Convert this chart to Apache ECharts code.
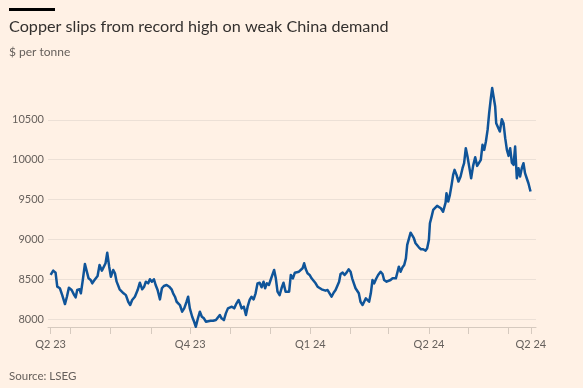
<!DOCTYPE html>
<html><head><meta charset="utf-8">
<script src="https://cdn.jsdelivr.net/npm/echarts@6/dist/echarts.min.js"></script>
<style>html,body{margin:0;padding:0;background:#FFF1E5}#c{width:583px;height:388px}</style>
</head><body><div id="c"></div>
<script>
// Days counted from 16 June 2023
const dayOffsets = [0,2,3.8,5.1,7.1,8.9,11,12.5,14,16.1,18.1,19.2,20.4,22.2,23.2,24.5,26.3,27.8,29.1,30.7,31.9,33.2,34.5,36,37.5,39.3,40.8,42.1,43.4,44.9,46.2,48,49.3,50.6,51.8,52.9,54.4,55.9,57.7,59.5,61,62.5,64.6,66.7,68.4,70.2,71.7,73,74.8,76.1,77.6,79.2,80.5,82,83.8,85.3,86.8,88.9,90.9,92.7,93.9,95.3,96.6,97.8,99.1,100.8,102.4,104.2,105.4,106.7,108.5,110,111.3,112.9,114.4,115.9,117.5,119,120.5,122.6,124.6,126.7,128.2,129.7,131,132.8,134.3,135.9,137.4,138.9,140.7,142.5,144.1,145.1,146.4,148.1,149.7,151,152.5,154,155.6,157.1,158.6,160.2,161.7,163.2,164.4,165.7,167.3,168.6,169.8,171.3,172.6,173.9,175.5,177,178.5,180.1,181.6,182.8,184.1,185.7,187.2,188.7,190.3,191.8,193.1,194.3,195.6,196.9,198.5,200,201.5,203.1,204.6,206.1,207.7,209.2,210.7,212.3,213.8,215.3,216.9,218.4,219.6,221.1,222.2,223.8,225.3,226.8,228.4,229.9,231.1,232.4,233.7,234.9,236.2,237.5,239.1,240.3,241.6,242.9,244.1,245.4,246.7,248,249.3,251,252.9,254.4,255.6,257.5,259,260.5,262.1,263.3,264.6,265.9,266.9,268.2,269.7,271,272.3,273.3,274.6,275.9,277.1,278.4,279.7,280.9,282.2,283.8,285.5,287.4,288.6,289.9,290.7,292,293.2,294.5,296.2,297.5,299.1,300.8,302.7,303.4,304.7,306,307.3,308.5,309.6,311.1,312.6,314.2,315.7,316.9,318.2,319.5,320.8,322.3,323.8,325.4,326.9,328.4,329.7,331,332.3,333.6,334.9,336.1,337.4,338.4,339.7,340.7,341.5,342.8,344.3,345.8,347.1,348.4,349.7,351,352.2,353.5,354.8,356,357.3,358.6,359.8,361.1,362.4,363.6,364.9,366.2,367.8];
const prices = [8553,8607,8582,8406,8386,8300,8188,8280,8393,8364,8300,8272,8364,8373,8323,8469,8691,8666,8511,8490,8448,8481,8461,8540,8678,8607,8582,8700,8833,8657,8531,8616,8574,8469,8448,8373,8393,8323,8300,8217,8176,8239,8280,8364,8456,8373,8406,8469,8448,8499,8469,8499,8427,8364,8247,8386,8415,8427,8406,8373,8323,8280,8217,8239,8176,8092,8134,8217,8280,8134,8029,7966,7903,8009,8092,8029,8009,7966,7987,7979,7979,7987,7966,8050,8009,7987,8071,8134,8113,8155,8134,8197,8239,8197,8134,8155,8050,8155,8239,8280,8247,8323,8448,8456,8398,8469,8386,8448,8427,8490,8469,8616,8511,8343,8300,8386,8456,8343,8330,8343,8553,8511,8582,8574,8594,8594,8637,8700,8624,8574,8553,8511,8499,8448,8406,8386,8373,8386,8356,8364,8323,8280,8330,8364,8373,8469,8565,8582,8553,8582,8624,8594,8511,8448,8386,8406,8323,8217,8176,8217,8260,8260,8217,8323,8490,8448,8499,8553,8594,8565,8490,8469,8456,8490,8511,8531,8511,8594,8657,8594,8649,8678,8762,8930,8908,9084,9097,9014,8951,8942,8900,8876,8876,8858,8888,8992,9202,9285,9369,9347,9420,9410,9390,9347,9461,9580,9474,9558,9683,9809,9872,9809,9725,9788,9893,9956,10144,10039,9913,9767,9922,10031,9922,9906,9997,10186,10123,10228,10374,10584,10773,10899,10877,10667,10457,10437,10353,10508,10457,10270,10123,10048,10144,9963,9935,10165,9767,9893,9788,9893,9956,9830,9767,9704,9600];
const yTicks = [8000,8500,9000,9500,10000,10500];
const xTickDays = [0,15,46,77,107,138,168,199,230,259,290,320,351,368];
const xLabelDays = [0,107,199,290,368];
const xLabels = ['Q2 23','Q4 23','Q1 24','Q2 24','Q2 24'];

const FONT = 'Lato, "Noto Sans", sans-serif';
const chart = echarts.init(document.getElementById('c'), null, {renderer:'canvas'});
const labelMap = {};
xLabelDays.forEach((d,i)=>{labelMap[d]=xLabels[i];});
chart.setOption({
  backgroundColor:'#FFF1E5',
  animation:false,
  grid:{left:48,right:47,top:80,bottom:61,containLabel:false},
  xAxis:{
    type:'value', min:-2, max:372,
    axisLine:{show:true,lineStyle:{color:'#d6cabf',width:1}},
    axisTick:{show:true,length:7,customValues:xTickDays,lineStyle:{color:'#d6cabf'}},
    axisLabel:{customValues:xLabelDays,formatter:v=>labelMap[v]||'',color:'#66605c',fontSize:11,fontFamily:FONT,margin:12},
    splitLine:{show:false}
  },
  yAxis:{
    type:'value', min:7900, max:11000,
    axisLine:{show:false}, 
    axisTick:{show:false,customValues:yTicks},
    axisLabel:{customValues:yTicks,formatter:v=>String(v),color:'#66605c',fontSize:11,fontFamily:FONT,margin:4},
    splitLine:{show:true,lineStyle:{color:'#ece0d6',width:1}}
  },
  series:[{
    type:'line',
    data:dayOffsets.map((d,i)=>[d,prices[i]]),
    showSymbol:false,
    lineStyle:{color:'#0f5499',width:2.5,join:'round'},
    itemStyle:{color:'#0f5499'}
  }],
  graphic:[
    {type:'rect',shape:{x:9,y:8,width:46,height:3},style:{fill:'#000'}},
    {type:'text',x:9,y:27,style:{text:'Copper slips from record high on weak China demand',font:'16.2px '+FONT,fill:'#33302e',verticalAlign:'middle'}},
    {type:'text',x:9,y:52,style:{text:'$ per tonne',font:'12px '+FONT,fill:'#66605c',verticalAlign:'middle'}},
    {type:'text',x:9,y:376,style:{text:'Source: LSEG',font:'11.5px '+FONT,fill:'#66605c',verticalAlign:'middle'}}
  ]
});
</script></body></html>
